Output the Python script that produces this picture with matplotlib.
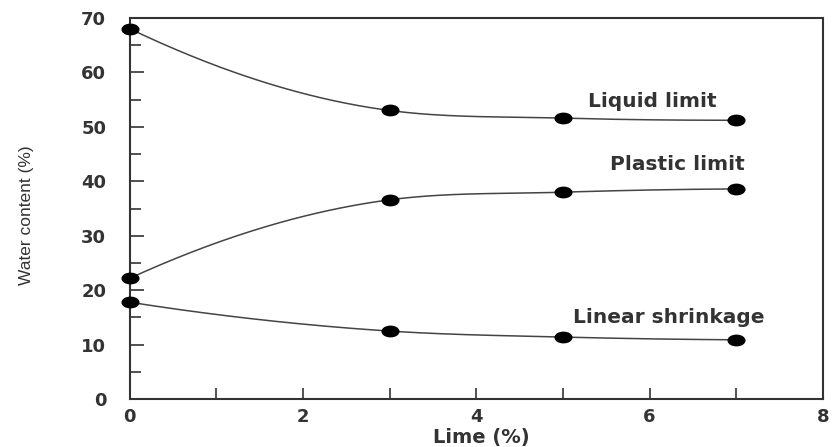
import numpy as np
import matplotlib.pyplot as plt
from matplotlib.path import Path
from matplotlib.ticker import MultipleLocator

lime = [0, 3, 5, 7]
liquid_limit = [68.0, 53.0, 51.6, 51.2]
plastic_limit = [22.2, 36.6, 38.0, 38.6]
linear_shrinkage = [17.8, 12.5, 11.4, 10.9]

labels = ["Liquid limit", "Plastic limit", "Linear shrinkage"]
label_pos = [(6.03, 53.6), (6.32, 42.1), (6.22, 14.0)]

TXT = "#333333"


def smooth(x, y, xs):
    # cubic hermite through the points (only for drawing the curve),
    # slopes clipped so the curve stays monotone between points
    x = np.asarray(x, float)
    y = np.asarray(y, float)
    h = np.diff(x)
    d = np.diff(y) / h
    m = np.zeros_like(y)
    for k in range(1, len(x) - 1):
        m[k] = (h[k] * d[k - 1] + h[k - 1] * d[k]) / (h[k - 1] + h[k])
        if d[k - 1] * d[k] <= 0:
            m[k] = 0
        else:
            lim = 3 * min(abs(d[k - 1]), abs(d[k]))
            m[k] = np.sign(m[k]) * min(abs(m[k]), lim)
    m[0] = ((2 * h[0] + h[1]) * d[0] - h[0] * d[1]) / (h[0] + h[1])
    m[-1] = ((2 * h[-1] + h[-2]) * d[-1] - h[-1] * d[-2]) / (h[-1] + h[-2])
    if np.sign(m[-1]) != np.sign(d[-1]):
        m[-1] = 0
    idx = np.clip(np.searchsorted(x, xs) - 1, 0, len(x) - 2)
    t = (xs - x[idx]) / h[idx]
    h00 = 2 * t**3 - 3 * t**2 + 1
    h10 = t**3 - 2 * t**2 + t
    h01 = -2 * t**3 + 3 * t**2
    h11 = t**3 - t**2
    return h00 * y[idx] + h10 * h[idx] * m[idx] + h01 * y[idx + 1] + h11 * h[idx] * m[idx + 1]


# flattened dot marker
circ = Path.unit_circle()
ellipse = Path(circ.vertices * [1.6, 1.0], circ.codes)

fig = plt.figure(figsize=(8.32, 4.47), dpi=100)
ax = fig.add_axes([0.156, 0.107, 0.833, 0.853])

xs = np.linspace(lime[0], lime[-1], 200)
for series in (liquid_limit, plastic_limit, linear_shrinkage):
    ax.plot(xs, smooth(lime, series, xs), color="#444444", lw=1.1)
    ax.plot(lime, series, ls="none", marker=ellipse, color="black", ms=12,
            clip_on=False, zorder=3)

for text, (tx, ty) in zip(labels, label_pos):
    ax.text(tx, ty, text, ha="center", va="baseline", fontsize=14.5,
            family="DejaVu Sans", fontweight="bold", color=TXT)

ax.set_xlim(0, 8)
ax.set_ylim(0, 70)
ax.xaxis.set_major_locator(MultipleLocator(2))
ax.xaxis.set_minor_locator(MultipleLocator(1))
ax.yaxis.set_major_locator(MultipleLocator(10))
ax.yaxis.set_minor_locator(MultipleLocator(5))
ax.tick_params(which="both", direction="in", color=TXT, width=1.2,
               labelsize=13, labelcolor=TXT)
ax.tick_params(axis="y", which="major", length=10, pad=17)
ax.tick_params(axis="y", which="minor", length=8)
ax.tick_params(axis="x", which="both", length=8, pad=6)
for lab in ax.get_xticklabels() + ax.get_yticklabels():
    lab.set_fontweight("bold")
for sp in ax.spines.values():
    sp.set_linewidth(1.5)
    sp.set_color(TXT)

fig.text(481 / 832, 1 - 437 / 447, "Lime (%)", ha="center", va="center",
         fontsize=14, fontweight="bold", color=TXT)
fig.text(27 / 832, 1 - 215 / 447, "Water content (%)", rotation=90,
         ha="center", va="center", fontsize=12.5,
         family=["Liberation Sans", "DejaVu Sans"], color=TXT)

fig.savefig("out.png", dpi=100)
